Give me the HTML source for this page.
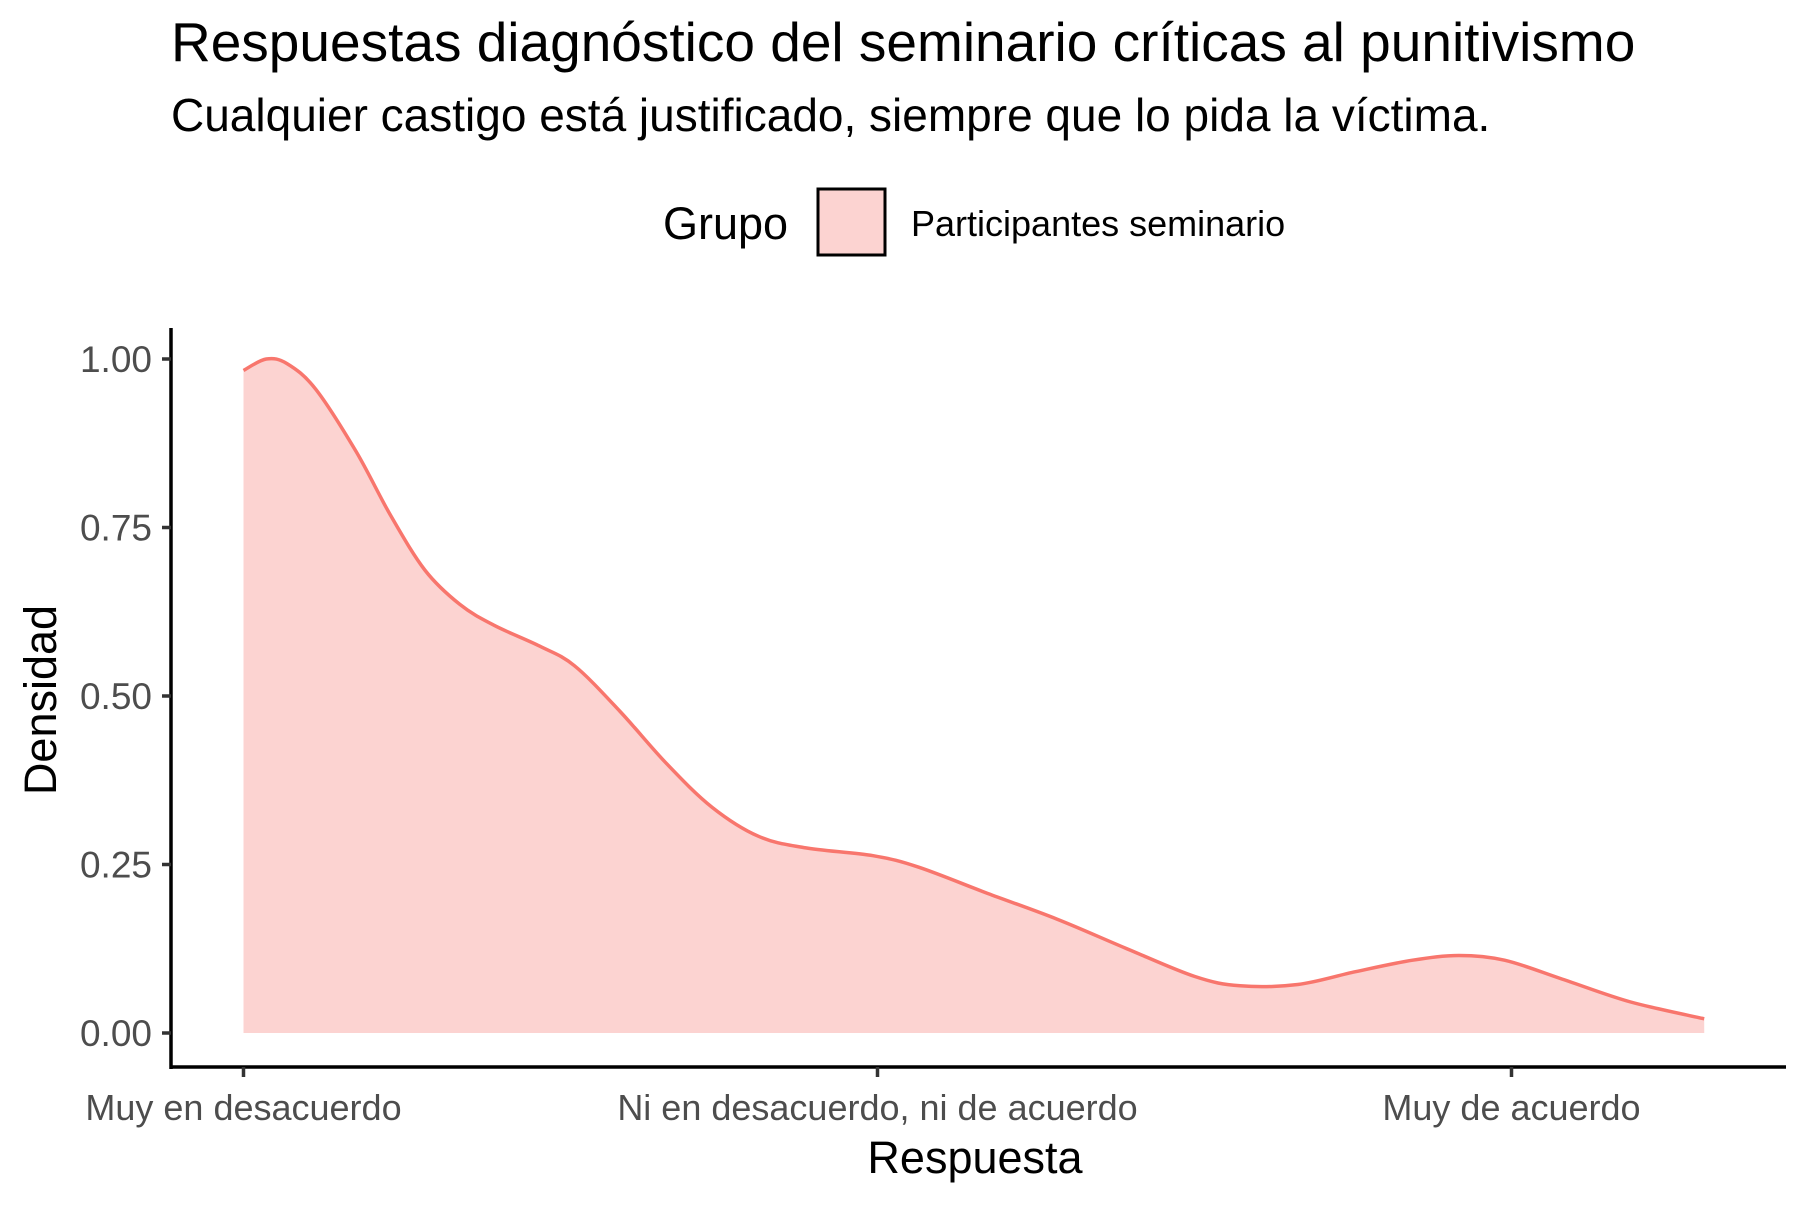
<!DOCTYPE html>
<html><head><meta charset="utf-8"><style>
body{margin:0;background:#fff;width:1800px;height:1200px;overflow:hidden}
svg text{font-family:"Liberation Sans",Arial,sans-serif}
</style></head><body>
<svg id="chart" width="1800" height="1200" viewBox="0 0 1800 1200" xmlns="http://www.w3.org/2000/svg">
<text x="171" y="61" font-size="55" fill="#000">Respuestas diagnóstico del seminario críticas al punitivismo</text>
<text x="171" y="131" font-size="46" fill="#000">Cualquier castigo está justificado, siempre que lo pida la víctima.</text>
<g>
<text x="663" y="239" font-size="45" fill="#000">Grupo</text>
<rect x="818" y="189" width="67" height="66" fill="#fcd3d1" stroke="#000" stroke-width="3"/>
<text x="911" y="236" font-size="36" fill="#000">Participantes seminario</text>
</g>
<g id="plot"></g>
<text x="975" y="1173" font-size="45" text-anchor="middle" fill="#000">Respuesta</text>
<text transform="translate(56,700) rotate(-90)" font-size="45" text-anchor="middle" fill="#000">Densidad</text>
</svg>
<script>
const xs=[0,.036,.069,.114,.178,.232,.286,.341,.395,.467,.522,.594,.667,.739,.812,.884,.993,1.065,1.174,1.283,1.391,1.5,1.572,1.663,1.754,1.844,1.917,1.989,2.08,2.188,2.304];
const densities=[.983,1.0,.993,.955,.862,.768,.687,.636,.605,.574,.545,.477,.400,.335,.292,.275,.263,.246,.207,.169,.126,.084,.070,.072,.091,.108,.115,.108,.080,.046,.021];
const categories=["Muy en desacuerdo","Ni en desacuerdo, ni de acuerdo","Muy de acuerdo"];
const yTicks=[0,0.25,0.5,0.75,1.0];
const yTickLabels=["0.00","0.25","0.50","0.75","1.00"];

const NS="http://www.w3.org/2000/svg";
const g=document.getElementById('plot');
const X=u=>243.5+u*634;
const Y=v=>1033-v*674;
function mk(t,a){const e=document.createElementNS(NS,t);for(const k in a)e.setAttribute(k,a[k]);g.appendChild(e);return e;}
const P=xs.map((x,i)=>[X(x),Y(densities[i])]);
let line='M'+P[0][0].toFixed(1)+','+P[0][1].toFixed(1);
for(let i=0;i<P.length-1;i++){
 const p0=P[Math.max(i-1,0)],p1=P[i],p2=P[i+1],p3=P[Math.min(i+2,P.length-1)];
 const c1=[p1[0]+(p2[0]-p0[0])/6,p1[1]+(p2[1]-p0[1])/6];
 const c2=[p2[0]-(p3[0]-p1[0])/6,p2[1]-(p3[1]-p1[1])/6];
 line+=` C${c1[0].toFixed(1)},${c1[1].toFixed(1)} ${c2[0].toFixed(1)},${c2[1].toFixed(1)} ${p2[0].toFixed(1)},${p2[1].toFixed(1)}`;
}
const area=mk('path',{d:line+` L${X(xs[xs.length-1])},${Y(0)} L${X(0)},${Y(0)} Z`,fill:'#fcd3d1',stroke:'none'});


const ln=mk('path',{d:line,fill:'none',stroke:'#f8766d','stroke-width':3.5});


const ya=mk('line',{x1:171,y1:328,x2:171,y2:1069,stroke:'#000','stroke-width':3.5});


const xa=mk('line',{x1:170,y1:1067,x2:1786,y2:1067,stroke:'#000','stroke-width':3.5});


yTicks.forEach((v,i)=>{
 const t=mk('line',{x1:162,y1:Y(v),x2:171,y2:Y(v),stroke:'#333','stroke-width':3.5});
 
 
 const l=mk('text',{x:152,y:Y(v)+13,'font-size':37,'text-anchor':'end',fill:'#4d4d4d'});
 l.textContent=yTickLabels[i];
 
 
});
categories.forEach((c,i)=>{
 const t=mk('line',{x1:X(i),y1:1067,x2:X(i),y2:1077,stroke:'#333','stroke-width':3.5});
 
 
 const l=mk('text',{x:X(i),y:1120,'font-size':36,'text-anchor':'middle',fill:'#4d4d4d'});
 l.textContent=c;
 
 
});
</script>
</body></html>
